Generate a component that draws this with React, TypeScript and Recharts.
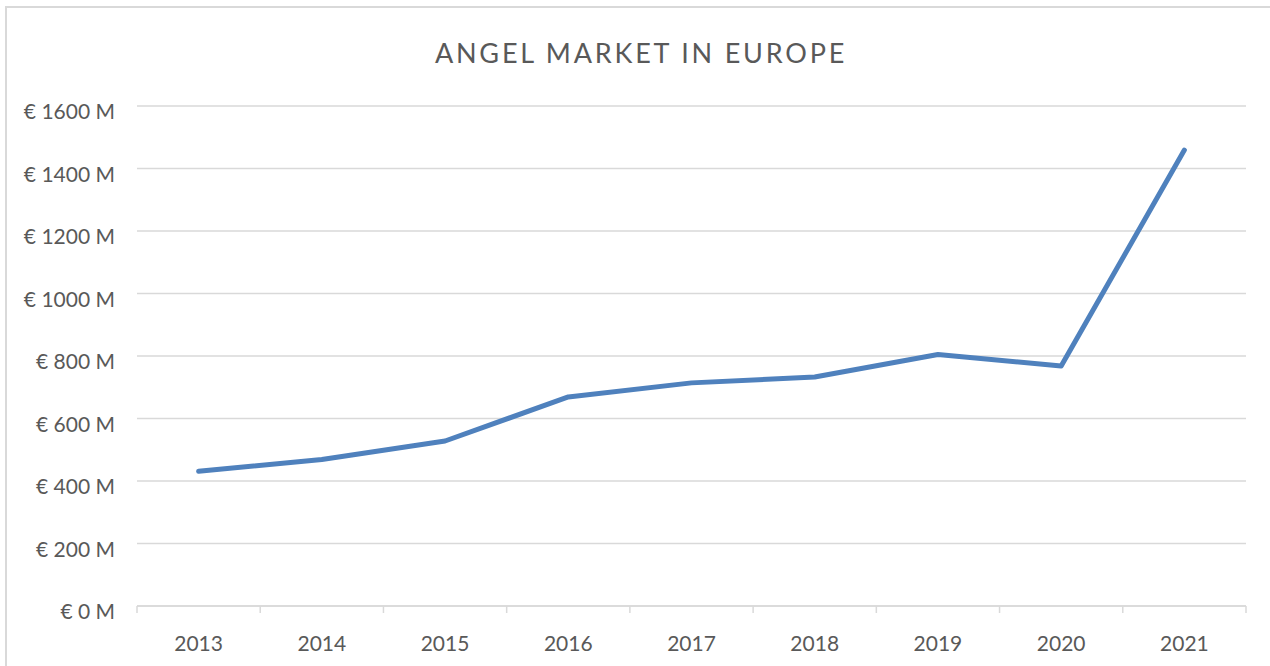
import { LineChart, Line, XAxis, YAxis, CartesianGrid } from "recharts";

const years = ["2013", "2014", "2015", "2016", "2017", "2018", "2019", "2020", "2021"];
const marketValues = [431, 469, 528, 669, 714, 733, 805, 768, 1459];
const yTicks = [0, 200, 400, 600, 800, 1000, 1200, 1400, 1600];

const FONT = "Lato, 'Open Sans', sans-serif";
const TEXT = "#595959";
const GRID = "#d9d9d9";

// each year sits in the middle of its slot, so ticks fall on slot borders
const data = years.map((year, i) => ({ year, pos: i + 0.5, value: marketValues[i] }));
const xTicks = Array.from({ length: years.length * 2 + 1 }, (_, i) => i / 2);

const XTick = ({ x, y, payload }: { x: number; y: number; payload: { value: number } }) => {
  const v = payload.value;
  if (Number.isInteger(v)) {
    return <line x1={x} x2={x} y1={y} y2={y + 7} stroke={GRID} strokeWidth={1.5} />;
  }
  return (
    <text x={x} y={y + 45} textAnchor="middle" fill={TEXT} fontSize={21} fontFamily={FONT}>
      {years[Math.floor(v)]}
    </text>
  );
};

const YTick = ({ x, y, payload }: { x: number; y: number; payload: { value: number } }) => (
  <text x={x} y={y + 13} textAnchor="end" fill={TEXT} fontSize={21} fontFamily={FONT}>
    {`€ ${payload.value} M`}
  </text>
);

export default function App() {
  return (
    <div
      style={{
        position: "fixed",
        top: 0,
        left: 0,
        width: 1270,
        height: 666,
        overflow: "hidden",
        background: "#fff",
      }}
    >
      <div
        style={{
          position: "absolute",
          left: 5,
          top: 6,
          width: 1290,
          height: 700,
          border: `2px solid ${GRID}`,
        }}
      />
      <div
        style={{
          position: "absolute",
          top: 37,
          left: 6,
          width: 1270,
          textAlign: "center",
          fontFamily: FONT,
          fontSize: 27,
          letterSpacing: 2.8,
          lineHeight: 1.2,
          color: TEXT,
        }}
      >
        ANGEL MARKET IN EUROPE
      </div>
      <div style={{ position: "absolute", top: 0, left: 0 }}>
        <LineChart
          width={1270}
          height={666}
          data={data}
          margin={{ top: 106, right: 24, bottom: 30, left: 0 }}
        >
          <CartesianGrid vertical={false} stroke={GRID} strokeWidth={1.5} />
          <XAxis
            dataKey="pos"
            type="number"
            domain={[0, years.length]}
            ticks={xTicks}
            interval={0}
            height={30}
            tickLine={false}
            tickSize={0}
            tickMargin={0}
            axisLine={{ stroke: GRID, strokeWidth: 1.5 }}
            tick={XTick}
          />
          <YAxis
            width={137}
            domain={[0, 1600]}
            ticks={yTicks}
            interval={0}
            axisLine={false}
            tickLine={false}
            tickSize={0}
            tickMargin={22}
            tick={YTick}
          />
          <Line
            type="linear"
            dataKey="value"
            stroke="#4f81bd"
            strokeWidth={5}
            strokeLinecap="round"
            strokeLinejoin="round"
            dot={false}
            activeDot={false}
            isAnimationActive={false}
          />
        </LineChart>
      </div>
    </div>
  );
}
